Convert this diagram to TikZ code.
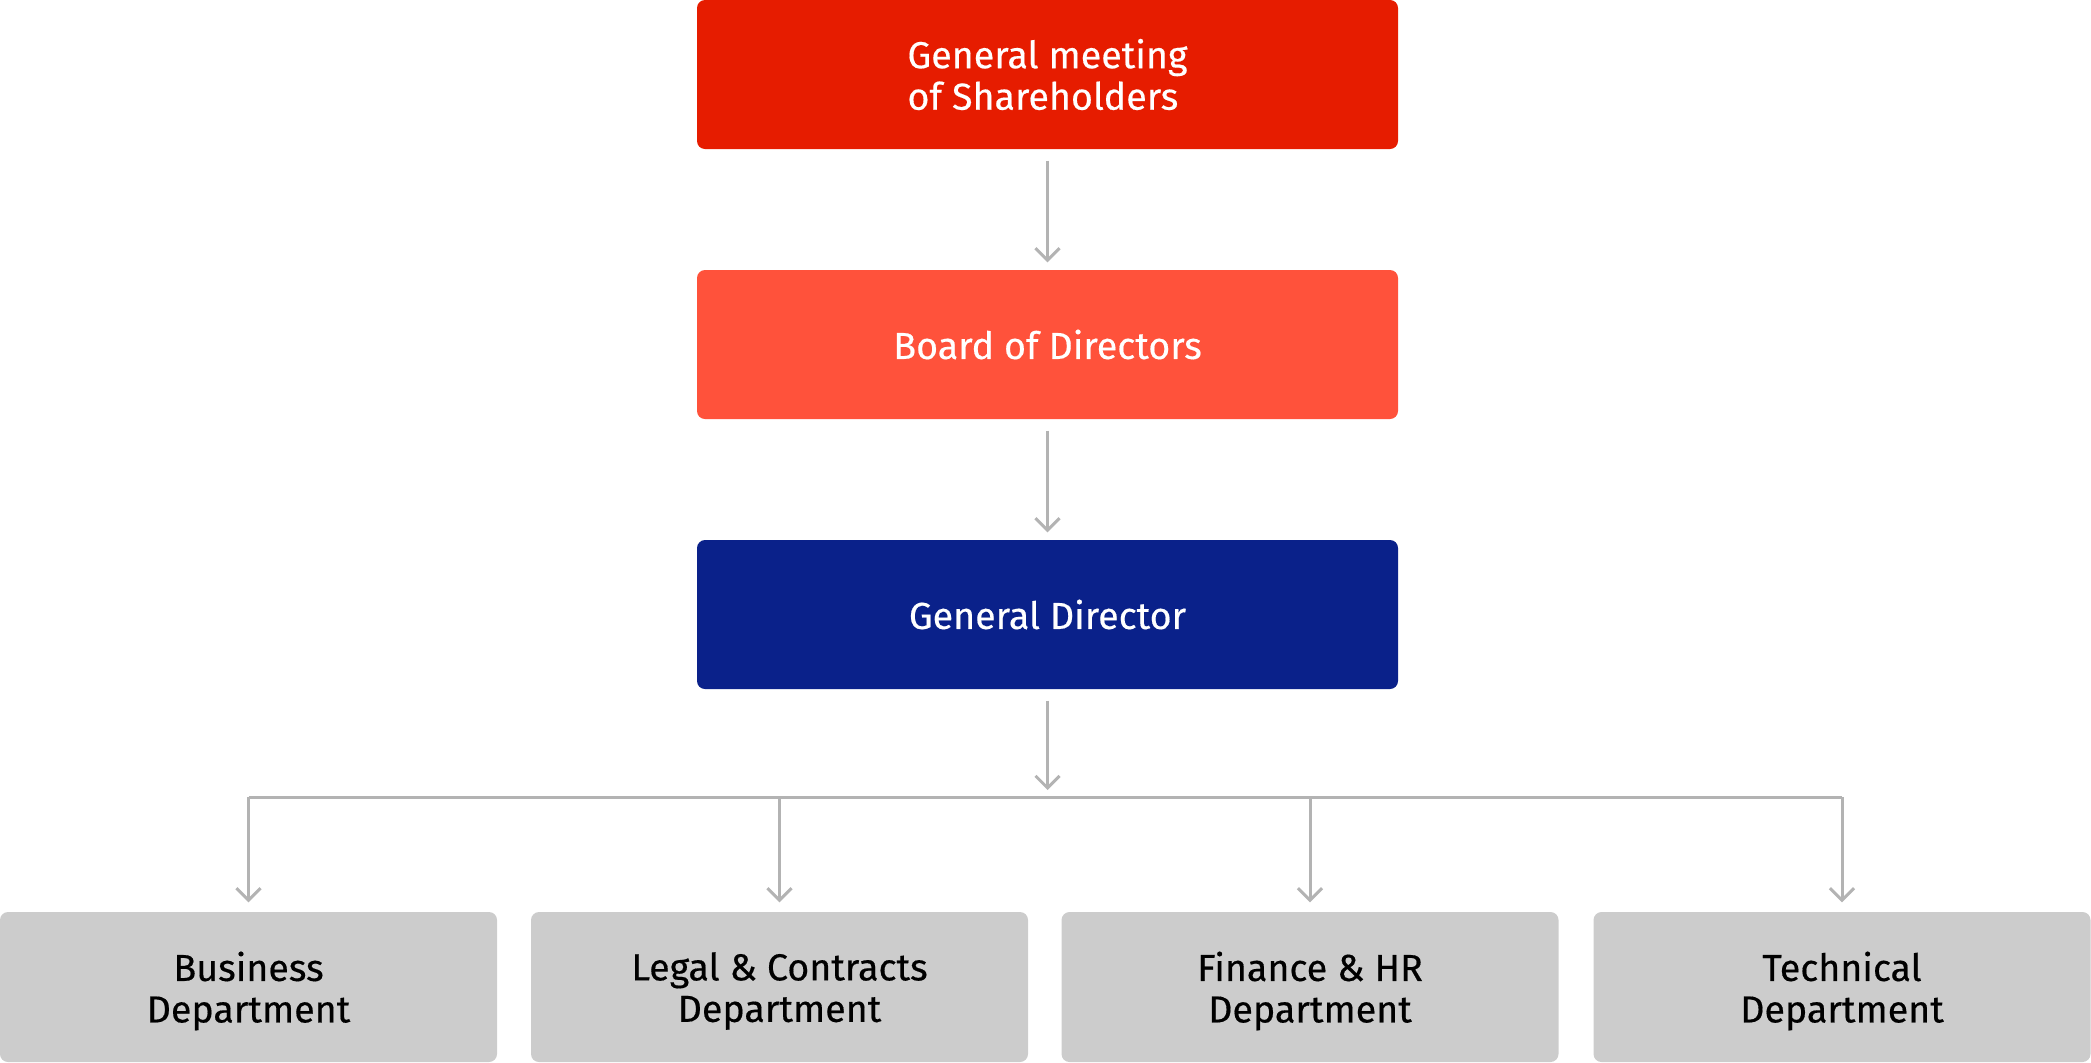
\documentclass[tikz,border=0pt]{standalone}
\usepackage{fontspec}
\setmainfont{Fira Sans}[FakeBold=0.4]
\usetikzlibrary{arrows.meta}

\definecolor{topred}{HTML}{E61C00}
\definecolor{boardred}{HTML}{FF523B}
\definecolor{gdblue}{HTML}{0A218A}
\definecolor{deptgray}{HTML}{CCCCCC}
\definecolor{linkgray}{HTML}{B3B3B3}

\begin{document}
\begin{tikzpicture}[
  box/.style={rounded corners=0.08cm, minimum width=7.01cm, minimum height=1.49cm,
    align=center, inner sep=0pt, text=white, font=\fontsize{10.7}{11.8}\selectfont},
  dept/.style={box, fill=deptgray, text=black, minimum width=4.97cm, minimum height=1.5cm,
    text depth=0pt},
  link/.style={draw=linkgray, line width=0.03cm, -{Straight Barb[length=1.2mm,width=2.4mm]},
    shorten <=0.11cm, shorten >=0.07cm}
]
\useasboundingbox (0,0) rectangle (20.91,-10.62);

% management chain
\node[box, fill=topred, align=left] (gms) at (10.475,-0.745) {General meeting\\of Shareholders};
\node[box, fill=boardred] (bod) at (10.475,-3.445) {Board of Directors};
\node[box, fill=gdblue] (gd) at (10.475,-6.145) {General Director};

% departments
\node[dept] (bus) at (2.485,-9.87) {Business\\Department};
\node[dept] (legal) at (7.795,-9.87) {Legal \& Contracts\\Department};
\node[dept] (fin) at (13.10,-9.87) {Finance \& HR\\Department};
\node[dept] (tech) at (18.42,-9.87) {Technical\\Department};

\coordinate (split) at (10.475,-7.97);

\draw[link] (gms) -- (bod);
\draw[link] (bod) -- (gd);
\draw[link] (gd) -- (split);
\draw[draw=linkgray, line width=0.03cm] (bus.north |- split) -- (tech.north |- split);
\foreach \d in {bus,legal,fin,tech}
  \draw[link, shorten <=0pt, shorten >=0.09cm] (\d.north |- split) -- (\d.north);
\end{tikzpicture}
\end{document}
